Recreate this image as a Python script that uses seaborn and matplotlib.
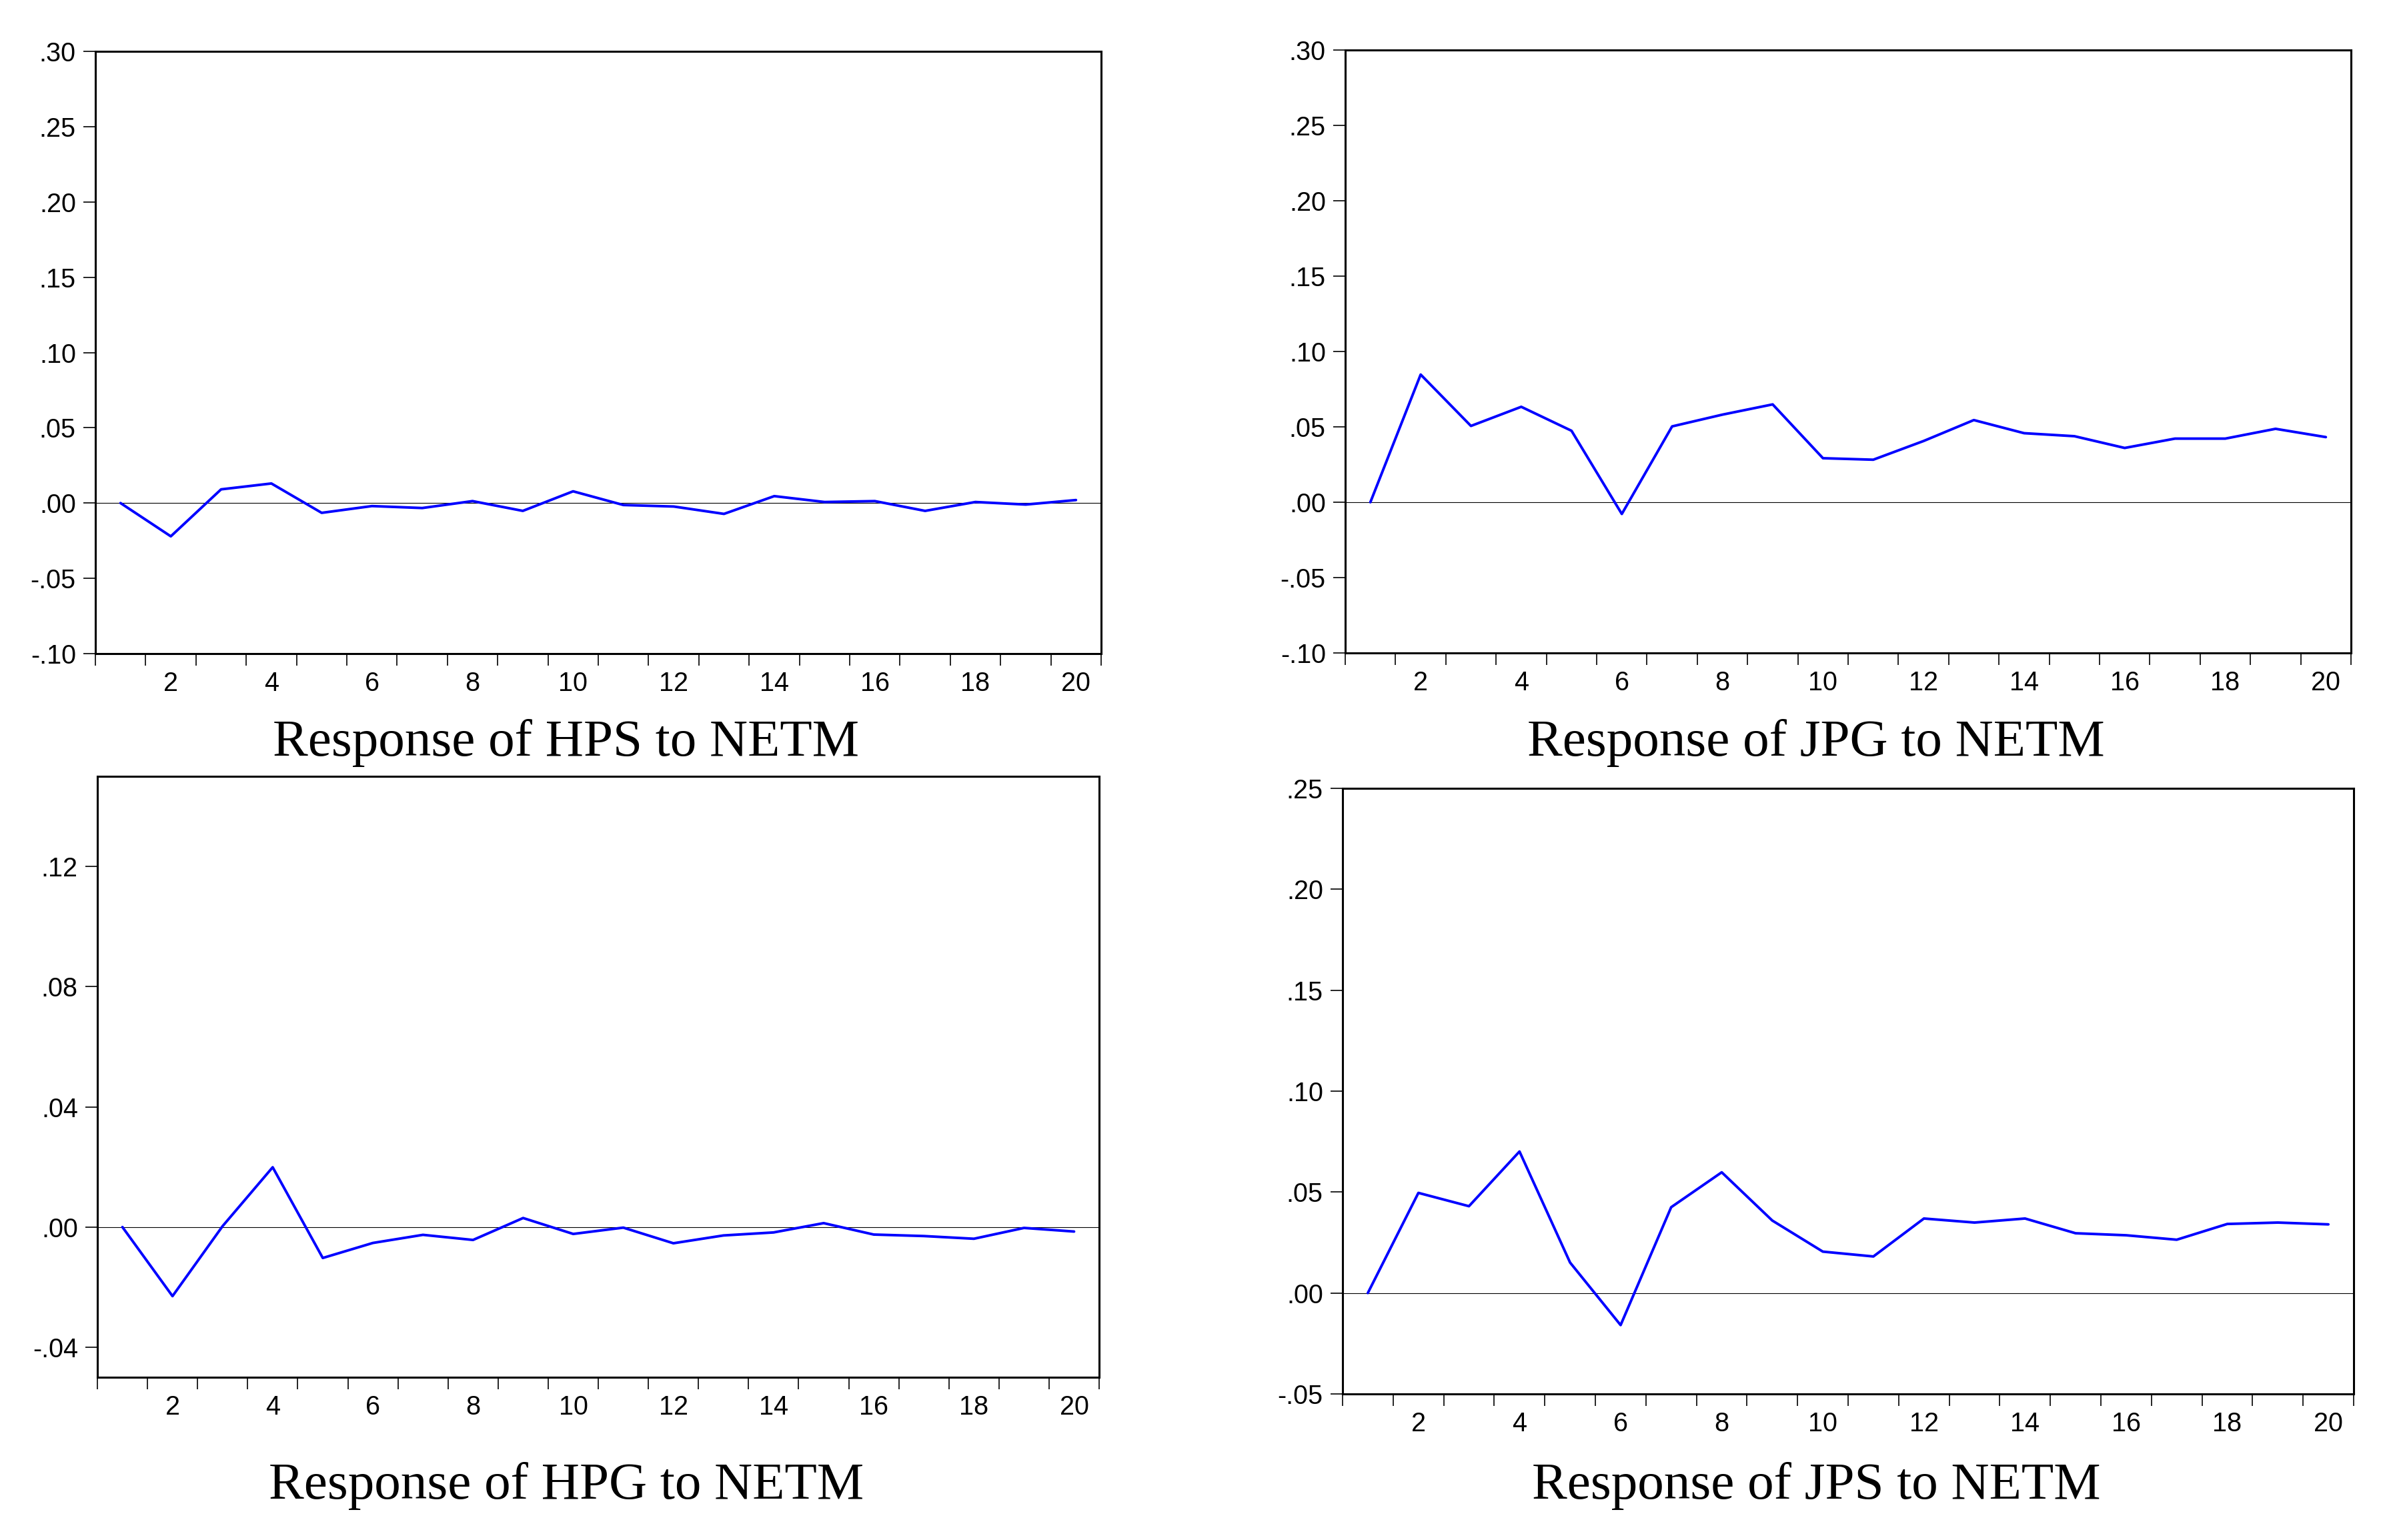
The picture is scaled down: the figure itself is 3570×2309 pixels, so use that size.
"""
Impulse responses to NETM, four panels in EViews style.
"""

import matplotlib
matplotlib.use("Agg")
import matplotlib.pyplot as plt
import matplotlib.ticker as mticker
import seaborn as sns
import pandas as pd
import numpy as np

sns.set_style("ticks")
plt.rcParams['font.family'] = ['Liberation Sans', 'DejaVu Sans']
plt.rcParams['text.color'] = 'black'
plt.rcParams['xtick.color'] = 'black'
plt.rcParams['ytick.color'] = 'black'

# periods 1..20
periods = list(range(1, 21))

hps = [0.0, -0.0221, 0.0091, 0.0130, -0.0065, -0.0020, -0.0033, 0.0013, -0.0052, 0.0078,
       -0.0013, -0.0023, -0.0072, 0.0046, 0.0007, 0.0013, -0.0052, 0.0007, -0.0010, 0.0020]
jpg = [0.0, 0.0847, 0.0506, 0.0633, 0.0474, -0.0078, 0.0503, 0.0581, 0.0649, 0.0292,
       0.0282, 0.0406, 0.0545, 0.0458, 0.0438, 0.0360, 0.0422, 0.0422, 0.0487, 0.0432]
hpg = [0.0, -0.0230, 0.0003, 0.0199, -0.0103, -0.0053, -0.0026, -0.0043, 0.0030, -0.0023,
       -0.0002, -0.0054, -0.0028, -0.0018, 0.0013, -0.0025, -0.0030, -0.0039, -0.0003, -0.0015]
jps = [0.0, 0.0496, 0.0430, 0.0701, 0.0151, -0.0159, 0.0425, 0.0598, 0.0359, 0.0205,
       0.0181, 0.0369, 0.0349, 0.0369, 0.0296, 0.0286, 0.0264, 0.0342, 0.0349, 0.0340]

titles = ["Response of HPS to NETM", "Response of JPG to NETM",
          "Response of HPG to NETM", "Response of JPS to NETM"]
y_limits = [(-0.10, 0.30), (-0.10, 0.30), (-0.05, 0.15), (-0.05, 0.25)]
y_ticks = [np.arange(-0.10, 0.301, 0.05), np.arange(-0.10, 0.301, 0.05),
           np.arange(-0.04, 0.121, 0.04), np.arange(-0.05, 0.251, 0.05)]

W, H = 3570, 2309
fig = plt.figure(figsize=(W / 100, H / 100), dpi=100)

# axes boxes in pixels: left, top, right, bottom
boxes = [(143, 77, 1651, 980), (2017, 75, 3525, 979),
         (146, 1164, 1648, 2065), (2013, 1182, 3529, 2090)]
title_pos = [(849, 1114), (2723, 1114), (849, 2228), (2723, 2228)]


def eviews_fmt(v, pos):
    s = f"{v:.2f}"
    if abs(v) < 1e-9:
        return ".00"
    return s.replace("0.", ".", 1)


for i, series in enumerate([hps, jpg, hpg, jps]):
    l, t, r, b = boxes[i]
    ax = fig.add_axes([l / W, 1 - b / H, (r - l) / W, (b - t) / H])
    df = pd.DataFrame({'period': periods, 'value': series})

    ax.axhline(0, color='black', lw=0.8, zorder=1)
    sns.lineplot(data=df, x='period', y='value', ax=ax, color='#0000FF', lw=2.8, zorder=3)

    ax.set_xlim(0.5, 20.5)
    ax.set_ylim(*y_limits[i])
    ax.set_yticks(y_ticks[i])
    ax.yaxis.set_major_formatter(mticker.FuncFormatter(eviews_fmt))

    # labels on even periods, ticks between observations
    ax.set_xticks(np.arange(2, 21, 2))
    ax.set_xticks(np.arange(0.5, 20.6, 1), minor=True)
    ax.tick_params(axis='x', which='major', length=0, pad=19, labelsize=28.5)
    ax.tick_params(axis='x', which='minor', length=13, width=1.2, direction='out')
    ax.tick_params(axis='y', which='major', length=13, width=1.2, pad=8, labelsize=28.5)

    ax.set_xlabel('')
    ax.set_ylabel('')
    for sp in ax.spines.values():
        sp.set_visible(True)
        sp.set_linewidth(2.2)
        sp.set_color('black')

    tx, ty = title_pos[i]
    fig.text(tx / W, 1 - ty / H, titles[i], ha='center', va='center',
             fontsize=57, family=['Liberation Serif', 'DejaVu Serif'])

fig.savefig('out.png', dpi=100, facecolor='white')
